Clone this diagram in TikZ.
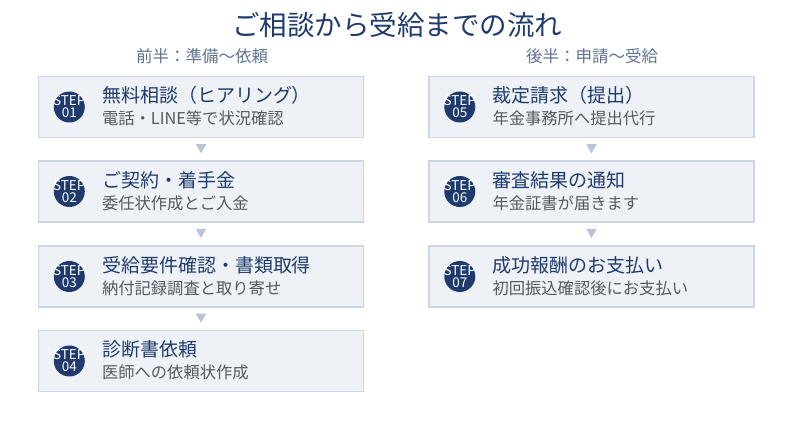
\documentclass[tikz,border=0pt]{standalone}
\usepackage{fontspec}
\setmainfont{Noto Sans CJK JP}
\usetikzlibrary{shapes.geometric,positioning}
\definecolor{navy}{HTML}{1F3B6E}
\definecolor{subgray}{HTML}{555A60}
\definecolor{halfcol}{HTML}{5F7391}
\definecolor{boxfill}{HTML}{EEF2F7}
\definecolor{boxline}{HTML}{CDD5E1}
\definecolor{arrcol}{HTML}{B9C4D4}
\tikzset{
  stepbox/.style={draw=boxline, fill=boxfill, line width=1.4pt, minimum width=325pt, minimum height=61pt, inner sep=0pt},
  badge/.style={circle, fill=navy, minimum size=31pt, inner sep=0pt},
  badgetxt/.style={inner sep=0pt, text=white, text height=9pt, text depth=0pt,
    font=\fontsize{13.5}{13.5}\selectfont},
  mainlbl/.style={anchor=west, inner sep=0pt, text=navy, font=\fontsize{19}{21}\selectfont},
  sublbl/.style={anchor=west, inner sep=0pt, text=subgray, font=\fontsize{16.3}{18}\selectfont},
  tri/.style={regular polygon, regular polygon sides=3, shape border rotate=180, fill=arrcol,
    minimum size=12pt, inner sep=0pt},
}
\newcommand{\stepitem}[6]{%
  \node[stepbox] (#1) at (#2,#3) {};
  \node[badge] (#1c) at ([xshift=31.5pt]#1.west) {};
  \node[badgetxt] (#1t) at ([yshift=5.8pt]#1c.center) {STEP};
  \node[badgetxt] (#1n) at ([yshift=-6.2pt]#1c.center) {#4};
  \node[mainlbl] (#1m) at ([xshift=64pt,yshift=11.5pt]#1.west) {#5};
  \node[sublbl] (#1s) at ([xshift=64pt,yshift=-11.5pt]#1.west) {#6};
}
\begin{document}
\begin{tikzpicture}[x=1pt,y=-1pt]
\useasboundingbox (0,0) rectangle (793,430);
\node[text=navy, font=\fontsize{27.5}{29}\selectfont] (title) at (397,25) {ご相談から受給までの流れ};
\node[text=halfcol, font=\fontsize{16.5}{18}\selectfont] (h1) at (202,56) {前半：準備〜依頼};
\node[text=halfcol, font=\fontsize{16.5}{18}\selectfont] (h2) at (592,56) {後半：申請〜受給};

\stepitem{s1}{201}{107}{01}{無料相談（ヒアリング）}{電話・LINE等で状況確認}
\stepitem{s2}{201}{191.5}{02}{ご契約・着手金}{委任状作成とご入金}
\stepitem{s3}{201}{276.5}{03}{受給要件確認・書類取得}{納付記録調査と取り寄せ}
\stepitem{s4}{201}{361}{04}{診断書依頼}{医師への依頼状作成}
\stepitem{s5}{591.5}{107}{05}{裁定請求（提出）}{年金事務所へ提出代行}
\stepitem{s6}{591.5}{191.5}{06}{審査結果の通知}{年金証書が届きます}
\stepitem{s7}{591.5}{276.5}{07}{成功報酬のお支払い}{初回振込確認後にお支払い}

\path (s1.south) -- (s2.north) node[midway, tri, yshift=2pt] {};
\path (s2.south) -- (s3.north) node[midway, tri, yshift=2pt] {};
\path (s3.south) -- (s4.north) node[midway, tri, yshift=2pt] {};
\path (s5.south) -- (s6.north) node[midway, tri, yshift=2pt] {};
\path (s6.south) -- (s7.north) node[midway, tri, yshift=2pt] {};
\end{tikzpicture}
\end{document}
